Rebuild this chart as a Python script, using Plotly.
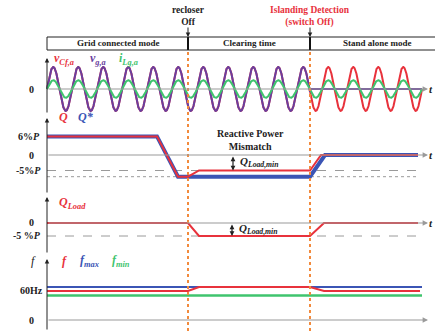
import numpy as np
import plotly.graph_objects as go

# ---------------- data (time in grid cycles) ----------------
t_recloser = 5.64
t_island = 10.52
wave_cycles = 15
v_amp = 1.0          # v_Cf,a and v_g,a amplitude (p.u.)
i_amp = 0.4          # i_Lg,a amplitude (p.u.)

q_t = [0, 4.4, 5.24, 5.64, 6.08, 10.52, 10.96, 14.84]
q_val = [6, 6, -7, -7, -5, -5, 0, 0]
qstar_t = [0, 4.4, 5.24, 10.52, 11.12, 14.84]
qstar_val = [6, 6, -7, -7, 0, 0]
qlevel_t = [0, 14.84]
q_minus5 = [-5, -5]
q_minus7 = [-7, -7]

qload_t = [0, 5.64, 6.08, 10.52, 11.08, 14.84]
qload_val = [0, 0, -5, -5, 0, 0]

f_t = [0, 5.64, 6.08, 10.52, 11.08, 14.92]
f_val = [58, 58, 66, 66, 58, 58]
flim_t = [0, 15.0]
fmax_val = [66, 66]
fmin_val = [49, 49]

mode_labels = ["Grid connected mode", "Clearing time", "Stand alone mode"]
mode_centers = [2.84, 8.08, 13.2]

# ---------------- styles ----------------
RED = "#e8323c"
BLUE = "#3b55b5"
PURPLE = "#6a3f9e"
GREEN = "#3fc46e"
ORANGE = "#f28a3c"
GRAY = "#9a9a9a"
SERIF = "Liberation Serif"
H = 331.0


def py(p):
    return 1 - p / H


fig = go.Figure()

# panel 1: waveforms
tw = np.linspace(0, wave_cycles, 3001)
s = np.sin(2 * np.pi * tw)
v_cf = v_amp * s
v_g = np.where(tw <= t_island, v_amp * s, 0.0)
i_lg = i_amp * s


def line(x, y, color, width, yaxis, dash=None):
    fig.add_trace(go.Scatter(x=x, y=y, mode="lines", yaxis=yaxis, xaxis="x",
                             line=dict(color=color, width=width, dash=dash),
                             hoverinfo="skip", showlegend=False))


line(tw, v_cf, RED, 2, "y")
line(tw, v_g, PURPLE, 2, "y")
line(tw, i_lg, GREEN, 2, "y")

# panel 2
line(qlevel_t, q_minus5, GRAY, 1, "y2", "dash")
line(qlevel_t, q_minus7, GRAY, 1, "y2", "dot")
line(qstar_t, qstar_val, BLUE, 4, "y2")
line(q_t, q_val, RED, 2, "y2")

# panel 3
line(qlevel_t, q_minus5, GRAY, 1, "y3", "dash")
line(qload_t, qload_val, RED, 2, "y3")

# panel 4
line(flim_t, fmax_val, BLUE, 2, "y4")
line(flim_t, fmin_val, GREEN, 2.5, "y4")
line(f_t, f_val, RED, 2, "y4")

ann = []
shapes = []

# axis arrows
panels = [("y", -1.136, 1.41), ("y2", -12.58, 11.94), ("y3", -11.92, 10.0), ("y4", -22, 122)]
for ya, lo, hi in panels:
    ann.append(dict(x=0, y=hi, ax=0, ay=lo, xref="x", yref=ya, axref="x", ayref=ya,
                    text="", showarrow=True, arrowhead=2, arrowsize=0.9,
                    arrowwidth=1, arrowcolor="#222"))
    ann.append(dict(x=15.24, y=0, ax=0, ay=0, xref="x", yref=ya, axref="x", ayref=ya,
                    text="", showarrow=True, arrowhead=2, arrowsize=0.9,
                    arrowwidth=1.2, arrowcolor=GRAY))

# t labels (partly outside the picture, as in the reference)
for ya in ["y", "y2", "y3"]:
    ann.append(dict(x=15.52, y=0, xref="x", yref=ya, text="<i><b>t</b></i>", showarrow=False,
                    xanchor="right", font=dict(family=SERIF, size=11, color="#222")))


# level labels
def lvl(text, y, ya, xr=-0.22):
    ann.append(dict(x=xr, y=y, xref="x", yref=ya, text="<b>%s</b>" % text, showarrow=False,
                    xanchor="right", yanchor="middle",
                    font=dict(family=SERIF, size=10, color="#222")))


lvl("0", 0, "y", -0.46)
lvl("6%<i>P</i>", 6, "y2")
lvl("0", 0, "y2", -0.46)
lvl("-5%<i>P</i>", -5, "y2", -0.16)
lvl("0", 0, "y3", -0.46)
lvl("-5 %<i>P</i>", -5, "y3", -0.16)
lvl("60Hz", 60, "y4", -0.08)
lvl("0", 0, "y4", -0.46)


# series labels
def lab(text, x, y, ya, color, size=12):
    ann.append(dict(x=x, y=y, xref="x", yref=ya, text=text, showarrow=False,
                    xanchor="left", yanchor="middle",
                    font=dict(family=SERIF, size=size, color=color)))


lab("<b><i>v<sub>Cf,a</sub></i></b>", 0.2, 1.36, "y", RED)
lab("<b><i>v<sub>g,a</sub></i></b>", 1.64, 1.36, "y", PURPLE)
lab("<b><i>i<sub>Lg,a</sub></i></b>", 2.8, 1.36, "y", GREEN)
lab("<b><i>Q</i></b>", 0.4, 12.1, "y2", RED)
lab("<b><i>Q*</i></b>", 1.16, 12.1, "y2", BLUE)
lab("<b><i>Q<sub>Load</sub></i></b>", 0.4, 7.7, "y3", RED)
lab("<i>f</i>", -0.72, 118, "y4", "#222")
lab("<b><i>f</i></b>", 0.52, 118, "y4", RED)
lab("<b><i>f<sub>max</sub></i></b>", 1.24, 118, "y4", BLUE)
lab("<b><i>f<sub>min</sub></i></b>", 2.52, 118, "y4", GREEN)

# Q_Load,min markers
for ya, xm in [("y2", 7.44), ("y3", 7.4)]:
    ann.append(dict(x=xm, y=-5, ax=xm, ay=0, xref="x", yref=ya, axref="x", ayref=ya,
                    text="", showarrow=True, arrowhead=2, arrowside="end+start",
                    arrowsize=0.8, arrowwidth=1.2, arrowcolor="#222"))
    lab("<b><i>Q<sub>Load,min</sub></i></b>", xm + 0.18, -2.3, ya, "#222", 11)

ann.append(dict(x=8.12, y=4.9, xref="x", yref="y2", text="<b>Reactive Power<br>Mismatch</b>",
                showarrow=False, font=dict(family=SERIF, size=10, color="#222")))


# top event labels
def top(text, x, p, color, size=10):
    ann.append(dict(x=x, y=py(p), xref="x", yref="paper", text="<b>%s</b>" % text,
                    showarrow=False, yanchor="middle",
                    font=dict(family=SERIF, size=size, color=color)))


top("recloser<br>Off", t_recloser, 16, "#222", 9.5)
top("Islanding Detection<br>(switch Off)", t_island, 16, RED, 9.5)
for lbl, cx in zip(mode_labels, mode_centers):
    top(lbl, cx, 43.5, "#222", 9)

for tx in [t_recloser, t_island]:
    ann.append(dict(x=tx, y=py(37), xref="x", yref="paper", ax=0, ay=-11, text="",
                    showarrow=True, arrowhead=2, arrowsize=0.9, arrowwidth=1, arrowcolor="#222"))
    shapes.append(dict(type="line", xref="x", yref="paper", x0=tx, x1=tx, y0=py(331), y1=py(50),
                       line=dict(color=ORANGE, width=2, dash="dot")))
    shapes.append(dict(type="line", xref="x", yref="paper", x0=tx, x1=tx, y0=py(50), y1=py(37),
                       line=dict(color="#111", width=2)))

shapes.append(dict(type="rect", xref="x", yref="paper", x0=0, x1=15.7, y0=py(50), y1=py(37),
                   line=dict(color="#222", width=1)))

ax_common = dict(visible=False, fixedrange=True)
fig.update_layout(
    width=435, height=331,
    margin=dict(l=0, r=0, t=0, b=0),
    paper_bgcolor="white", plot_bgcolor="white",
    xaxis=dict(range=[-1.88, 15.52], anchor="y4", **ax_common),
    yaxis=dict(domain=[py(114), py(56)], range=[-1.136, 1.5], anchor="x", **ax_common),
    yaxis2=dict(domain=[py(194), py(116)], range=[-12.58, 12.58], anchor="x", **ax_common),
    yaxis3=dict(domain=[py(254), py(196)], range=[-11.92, 10.38], anchor="x", **ax_common),
    yaxis4=dict(domain=[py(331), py(256)], range=[-22, 128], anchor="x", **ax_common),
    annotations=ann, shapes=shapes,
)

fig.write_html("out.html", config={"staticPlot": True},
               post_script="document.body.style.margin='0';document.body.style.overflow='hidden';")
